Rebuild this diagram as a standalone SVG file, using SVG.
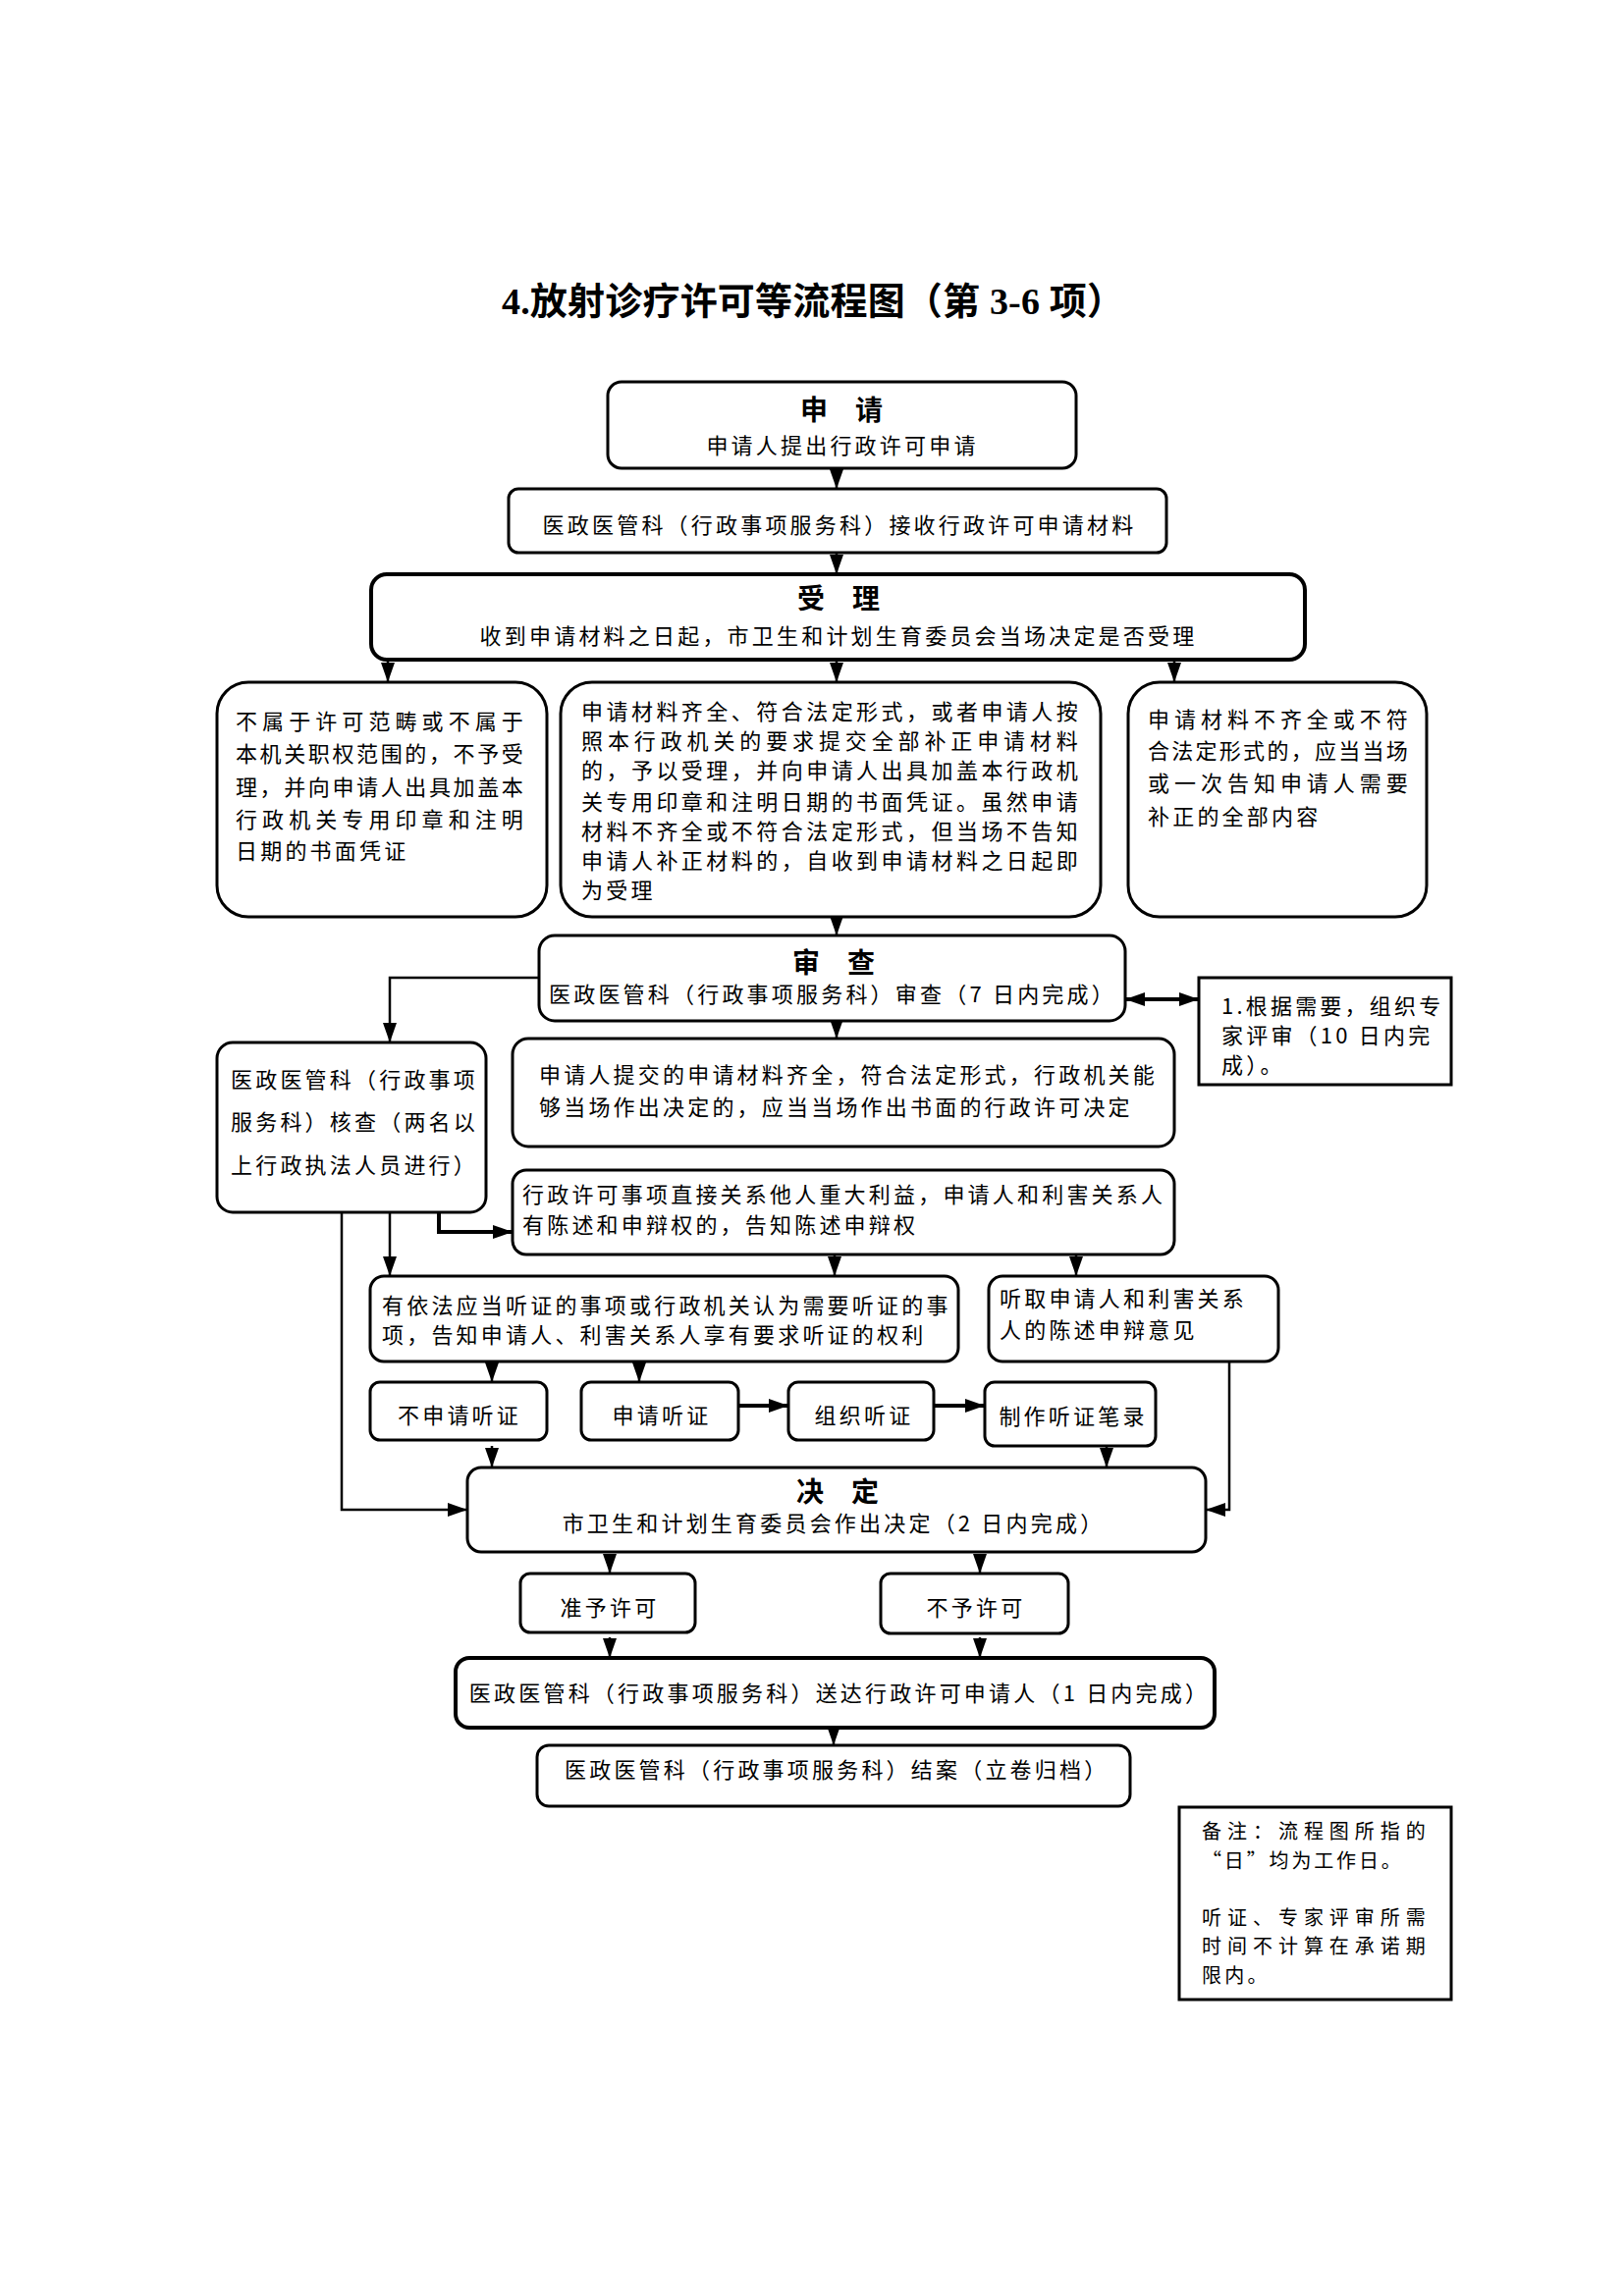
<svg xmlns="http://www.w3.org/2000/svg" width="1654" height="2339" viewBox="0 0 1654 2339">
<defs>
<style>
.bg{fill:#fff}
.box{fill:#fff;stroke:#000;stroke-width:3}
.thick{stroke-width:4}
.t{font-family:"Noto Sans CJK SC","Liberation Sans",sans-serif;font-size:22px;letter-spacing:3.2px;fill:#000}
.n{font-size:20px}
.h{font-family:"Noto Sans CJK SC","Liberation Sans",sans-serif;font-size:28px;font-weight:bold;fill:#000;text-anchor:middle}
.c{text-anchor:middle}
.title{font-family:"Liberation Serif","Noto Sans CJK SC",serif;font-size:38px;font-weight:bold;fill:#000;text-anchor:middle}
.ln{fill:none;stroke:#000;stroke-width:2.5}
.ln4{fill:none;stroke:#000;stroke-width:4}
</style>
<marker id="ah" markerUnits="userSpaceOnUse" markerWidth="20" markerHeight="14" viewBox="0 0 20 14" refX="20" refY="7" orient="auto-start-reverse">
<path d="M0,0 L20,7 L0,14 z" fill="#000"/>
</marker>
</defs>
<rect class="bg" x="0" y="0" width="1654" height="2339"/>
<text class="title" x="828" y="320" textLength="634" lengthAdjust="spacing">4.放射诊疗许可等流程图（第 3-6 项）</text>

<g id="connectors">
<path class="ln" d="M852,477 V498" marker-end="url(#ah)"/>
<path class="ln" d="M852,563 V585" marker-end="url(#ah)"/>
<path class="ln" d="M395,672 V695" marker-end="url(#ah)"/>
<path class="ln" d="M852,672 V695" marker-end="url(#ah)"/>
<path class="ln" d="M1196,672 V695" marker-end="url(#ah)"/>
<path class="ln" d="M852,934 V953" marker-end="url(#ah)"/>
<path class="ln" d="M549,996 H397 V1062" marker-end="url(#ah)"/>
<path class="ln" d="M852,1040 V1058" marker-end="url(#ah)"/>
<path class="ln4" d="M1146,1018 H1221" marker-start="url(#ah)" marker-end="url(#ah)"/>
<path class="ln4" d="M447,1235 V1255 H522" marker-end="url(#ah)"/>
<path class="ln" d="M397,1235 V1300" marker-end="url(#ah)"/>
<path class="ln" d="M348,1235 V1538 H476" marker-end="url(#ah)"/>
<path class="ln" d="M850,1278 V1300" marker-end="url(#ah)"/>
<path class="ln" d="M1096,1278 V1300" marker-end="url(#ah)"/>
<path class="ln" d="M501,1387 V1408" marker-end="url(#ah)"/>
<path class="ln" d="M651,1387 V1408" marker-end="url(#ah)"/>
<path class="ln4" d="M752,1432 H803" marker-end="url(#ah)"/>
<path class="ln4" d="M951,1432 H1003" marker-end="url(#ah)"/>
<path class="ln" d="M501,1473 V1495" marker-end="url(#ah)"/>
<path class="ln" d="M1127,1473 V1495" marker-end="url(#ah)"/>
<path class="ln" d="M1252,1387 V1538 H1228" marker-end="url(#ah)"/>
<path class="ln" d="M621,1583 V1603" marker-end="url(#ah)"/>
<path class="ln" d="M998,1583 V1603" marker-end="url(#ah)"/>
<path class="ln" d="M621,1668 V1689" marker-end="url(#ah)"/>
<path class="ln" d="M998,1668 V1689" marker-end="url(#ah)"/>
<path class="ln" d="M849,1760 V1778" marker-end="url(#ah)"/>
</g>

<g id="n1">
<rect class="box" x="619" y="389" width="477" height="88" rx="14"/>
<text class="h" x="857" y="428">申　请</text>
<text class="t c" x="858" y="462">申请人提出行政许可申请</text>
</g>
<g id="n2">
<rect class="box" x="518" y="498" width="670" height="65" rx="10"/>
<text class="t c" x="855" y="543">医政医管科（行政事项服务科）接收行政许可申请材料</text>
</g>
<g id="n3">
<rect class="box thick" x="378" y="585" width="951" height="87" rx="16"/>
<text class="h" x="854" y="620">受　理</text>
<text class="t c" x="854" y="656">收到申请材料之日起，市卫生和计划生育委员会当场决定是否受理</text>
</g>
<g id="n4">
<rect class="box" x="221" y="695" width="336" height="239" rx="32"/>
<text class="t" x="240" y="743" textLength="296" lengthAdjust="spacing">不属于许可范畴或不属于</text>
<text class="t" x="240" y="776" textLength="296" lengthAdjust="spacing">本机关职权范围的，不予受</text>
<text class="t" x="240" y="810" textLength="296" lengthAdjust="spacing">理，并向申请人出具加盖本</text>
<text class="t" x="240" y="843" textLength="296" lengthAdjust="spacing">行政机关专用印章和注明</text>
<text class="t" x="240" y="875">日期的书面凭证</text>
</g>
<g id="n5">
<rect class="box" x="571" y="695" width="550" height="239" rx="32"/>
<text class="t" x="592" y="733" textLength="509" lengthAdjust="spacing">申请材料齐全、符合法定形式，或者申请人按</text>
<text class="t" x="592" y="763" textLength="509" lengthAdjust="spacing">照本行政机关的要求提交全部补正申请材料</text>
<text class="t" x="592" y="793" textLength="509" lengthAdjust="spacing">的，予以受理，并向申请人出具加盖本行政机</text>
<text class="t" x="592" y="825" textLength="509" lengthAdjust="spacing">关专用印章和注明日期的书面凭证。虽然申请</text>
<text class="t" x="592" y="855" textLength="509" lengthAdjust="spacing">材料不齐全或不符合法定形式，但当场不告知</text>
<text class="t" x="592" y="885" textLength="509" lengthAdjust="spacing">申请人补正材料的，自收到申请材料之日起即</text>
<text class="t" x="592" y="915">为受理</text>
</g>
<g id="n6">
<rect class="box" x="1149" y="695" width="304" height="239" rx="32"/>
<text class="t" x="1169" y="741" textLength="268" lengthAdjust="spacing">申请材料不齐全或不符</text>
<text class="t" x="1169" y="773" textLength="268" lengthAdjust="spacing">合法定形式的，应当当场</text>
<text class="t" x="1169" y="806" textLength="268" lengthAdjust="spacing">或一次告知申请人需要</text>
<text class="t" x="1169" y="840">补正的全部内容</text>
</g>
<g id="n7">
<rect class="box" x="549" y="953" width="597" height="87" rx="16"/>
<text class="h" x="849" y="991">审　查</text>
<text class="t c" x="848" y="1021">医政医管科（行政事项服务科）审查（7 日内完成）</text>
</g>
<g id="n8">
<rect class="box" x="1221" y="996" width="257" height="109"/>
<text class="t" x="1244" y="1033">1.根据需要，组织专</text>
<text class="t" x="1244" y="1063">家评审（10 日内完</text>
<text class="t" x="1244" y="1093">成）。</text>
</g>
<g id="n9">
<rect class="box" x="221" y="1062" width="274" height="173" rx="16"/>
<text class="t" x="235" y="1108">医政医管科（行政事项</text>
<text class="t" x="235" y="1151">服务科）核查（两名以</text>
<text class="t" x="235" y="1195">上行政执法人员进行）</text>
</g>
<g id="n10">
<rect class="box" x="522" y="1058" width="674" height="110" rx="16"/>
<text class="t" x="549" y="1103">申请人提交的申请材料齐全，符合法定形式，行政机关能</text>
<text class="t" x="549" y="1136">够当场作出决定的，应当当场作出书面的行政许可决定</text>
</g>
<g id="n11">
<rect class="box" x="522" y="1192" width="674" height="86" rx="14"/>
<text class="t" x="532" y="1225">行政许可事项直接关系他人重大利益，申请人和利害关系人</text>
<text class="t" x="532" y="1256">有陈述和申辩权的，告知陈述申辩权</text>
</g>
<g id="n12">
<rect class="box" x="377" y="1300" width="599" height="87" rx="14"/>
<text class="t" x="389" y="1338">有依法应当听证的事项或行政机关认为需要听证的事</text>
<text class="t" x="389" y="1368">项，告知申请人、利害关系人享有要求听证的权利</text>
</g>
<g id="n13">
<rect class="box" x="1007" y="1300" width="295" height="87" rx="14"/>
<text class="t" x="1018" y="1331">听取申请人和利害关系</text>
<text class="t" x="1018" y="1363">人的陈述申辩意见</text>
</g>
<g id="n14">
<rect class="box" x="377" y="1408" width="180" height="59" rx="10"/>
<text class="t c" x="468" y="1450">不申请听证</text>
</g>
<g id="n15">
<rect class="box" x="592" y="1408" width="160" height="59" rx="10"/>
<text class="t c" x="674" y="1450">申请听证</text>
</g>
<g id="n16">
<rect class="box" x="803" y="1408" width="148" height="59" rx="10"/>
<text class="t c" x="880" y="1450">组织听证</text>
</g>
<g id="n17">
<rect class="box" x="1003" y="1408" width="174" height="65" rx="10"/>
<text class="t c" x="1093" y="1451">制作听证笔录</text>
</g>
<g id="n18">
<rect class="box" x="476" y="1495" width="752" height="86" rx="14"/>
<text class="h" x="853" y="1530">决　定</text>
<text class="t c" x="849" y="1560">市卫生和计划生育委员会作出决定（2 日内完成）</text>
</g>
<g id="n19">
<rect class="box" x="530" y="1603" width="178" height="60" rx="10"/>
<text class="t c" x="621" y="1646">准予许可</text>
</g>
<g id="n20">
<rect class="box" x="897" y="1603" width="191" height="61" rx="10"/>
<text class="t c" x="994" y="1646">不予许可</text>
</g>
<g id="n21">
<rect class="box thick" x="464" y="1689" width="773" height="71" rx="14"/>
<text class="t c" x="855" y="1733">医政医管科（行政事项服务科）送达行政许可申请人（1 日内完成）</text>
</g>
<g id="n22">
<rect class="box" x="547" y="1778" width="604" height="62" rx="12"/>
<text class="t" x="575" y="1811">医政医管科（行政事项服务科）结案（立卷归档）</text>
</g>
<g id="n23">
<rect class="box" x="1201" y="1841" width="277" height="196"/>
<text class="t n" x="1224" y="1873" textLength="231" lengthAdjust="spacing">备注：流程图所指的</text>
<text class="t n" x="1224" y="1903" textLength="206" lengthAdjust="spacing">“日”均为工作日。</text>
<text class="t n" x="1224" y="1961" textLength="231" lengthAdjust="spacing">听证、专家评审所需</text>
<text class="t n" x="1224" y="1990" textLength="231" lengthAdjust="spacing">时间不计算在承诺期</text>
<text class="t n" x="1224" y="2020">限内。</text>
</g>
</svg>
